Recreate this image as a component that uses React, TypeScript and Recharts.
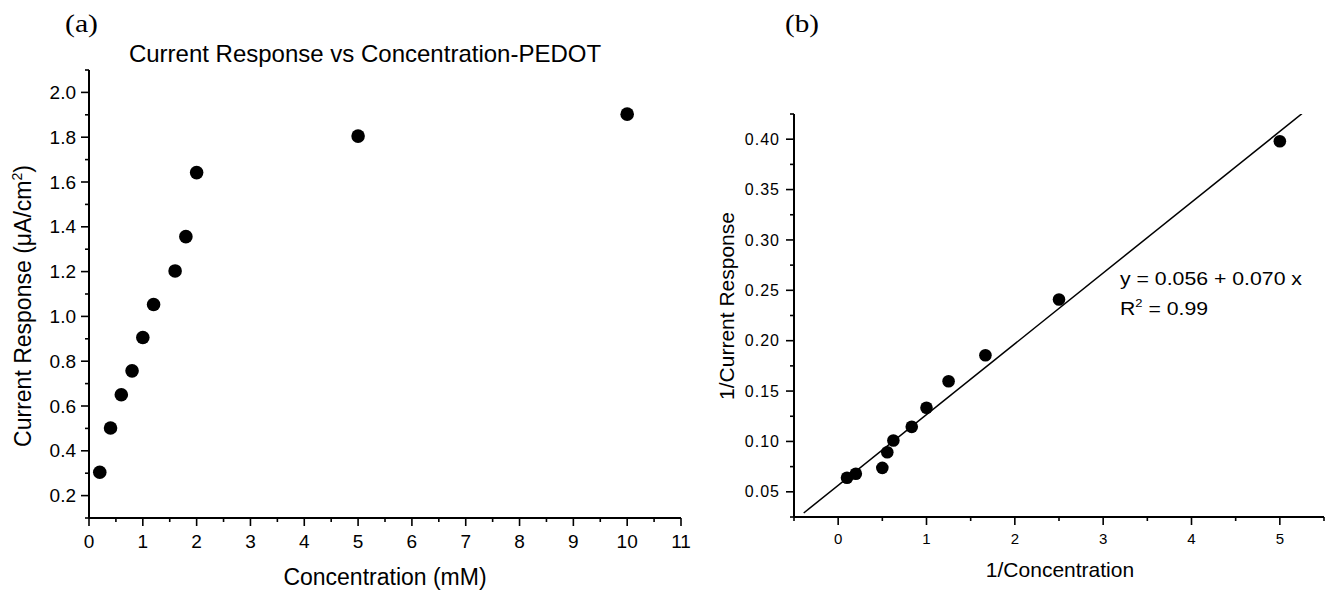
import React from 'react';
import { ScatterChart, Scatter, XAxis, YAxis } from 'recharts';

// panel (a): concentration (mM) vs current response (uA/cm2)
const concA = [0.2, 0.4, 0.6, 0.8, 1.0, 1.2, 1.6, 1.8, 2.0, 5, 10];
const currentA = [0.304, 0.502, 0.65, 0.757, 0.906, 1.053, 1.203, 1.356, 1.642, 1.805, 1.903];

// panel (b): double reciprocal plot
const invConc = [0.1, 0.2, 0.5, 0.556, 0.625, 0.833, 1.0, 1.25, 1.667, 2.5, 5.0];
const invCurrent = [0.0639, 0.0679, 0.0738, 0.0893, 0.1009, 0.1145, 0.1334, 0.1598, 0.1856, 0.2409, 0.398];

// fitted line end points as drawn
const fitX = [-0.39, 5.25];
const fitY = [0.029, 0.4253];

const xMajorA = [0, 1, 2, 3, 4, 5, 6, 7, 8, 9, 10, 11];
const xMinorA = [0.5, 1.5, 2.5, 3.5, 4.5, 5.5, 6.5, 7.5, 8.5, 9.5, 10.5];
const yMajorA = [0.2, 0.4, 0.6, 0.8, 1.0, 1.2, 1.4, 1.6, 1.8, 2.0];
const yMinorA = [0.1, 0.3, 0.5, 0.7, 0.9, 1.1, 1.3, 1.5, 1.7, 1.9, 2.1];

const xMajorB = [0, 1, 2, 3, 4, 5];
const xMinorB = [-0.5, 0.5, 1.5, 2.5, 3.5, 4.5, 5.5];
const yMajorB = [0.05, 0.1, 0.15, 0.2, 0.25, 0.3, 0.35, 0.4];
const yMinorB = [0.025, 0.075, 0.125, 0.175, 0.225, 0.275, 0.325, 0.375, 0.425];

const dataA = concA.map((x, i) => ({ x, y: currentA[i] }));
const dataB = invConc.map((x, i) => ({ x, y: invCurrent[i] }));
const fitData = fitX.map((x, i) => ({ x, y: fitY[i] }));

const FONT = '"Liberation Sans", Arial, sans-serif';
const SERIF = '"Liberation Serif", "Times New Roman", serif';
const axisStyle = { stroke: '#000', strokeWidth: 2 };

const sortTicks = (a: number[], b: number[]) => [...a, ...b].sort((p, q) => p - q);

const xTick = (majors: number[], fontSize: number, gap: number) => (props: any) => {
  const { x, y, payload } = props;
  const major = majors.includes(payload.value);
  return (
    <g>
      <line x1={x} y1={y} x2={x} y2={y + (major ? 8 : 4)} stroke="#000" strokeWidth={1.6} />
      {major && (
        <text x={x} y={y + gap} dy="0.71em" textAnchor="middle" fontSize={fontSize} fontFamily={FONT} fill="#000">
          {payload.value}
        </text>
      )}
    </g>
  );
};

const yTick = (majors: number[], fontSize: number, gap: number, digits: number, spacing: number) => (props: any) => {
  const { x, y, payload } = props;
  const major = majors.includes(payload.value);
  return (
    <g>
      <line x1={x} y1={y} x2={x - (major ? 8 : 4)} y2={y} stroke="#000" strokeWidth={1.6} />
      {major && (
        <text x={x - gap} y={y} dy="0.35em" textAnchor="end" fontSize={fontSize} fontFamily={FONT} letterSpacing={spacing} fill="#000">
          {payload.value.toFixed(digits)}
        </text>
      )}
    </g>
  );
};

const dot = (r: number) => (p: any) => <circle cx={p.cx} cy={p.cy} r={r} fill="#000" />;

export default function App() {
  return (
    <div style={{ position: 'absolute', left: 0, top: 0, width: 1328, height: 592, background: '#fff' }}>
      <div style={{ position: 'absolute', left: 0, top: 0 }}>
        <ScatterChart width={1328} height={592} margin={{ top: 70, left: 88, right: 647, bottom: 73 }}>
          <XAxis
            type="number"
            dataKey="x"
            domain={[0, 11]}
            ticks={sortTicks(xMajorA, xMinorA)}
            interval={0}
            height={1}
            tickSize={0}
            tickMargin={0}
            tickLine={false}
            axisLine={axisStyle}
            tick={xTick(xMajorA, 19, 17)}
          />
          <YAxis
            type="number"
            dataKey="y"
            domain={[0.1, 2.1]}
            ticks={sortTicks(yMajorA, yMinorA)}
            interval={0}
            width={1}
            tickSize={0}
            tickMargin={0}
            tickLine={false}
            axisLine={axisStyle}
            tick={yTick(yMajorA, 19, 13, 1, 0)}
          />
          <Scatter data={dataA} shape={dot(6.8)} isAnimationActive={false} />
          <text x={65} y={32} textLength={33} lengthAdjust="spacingAndGlyphs" fontSize={26} fontFamily={SERIF} fill="#000">(a)</text>
          <text x={365} y={62} textAnchor="middle" fontSize={24} fontFamily={FONT} fill="#000">
            Current Response vs Concentration-PEDOT
          </text>
          <text x={385} y={585} textAnchor="middle" fontSize={23} fontFamily={FONT} fill="#000">
            Concentration (mM)
          </text>
          <text x={31} y={306} transform="rotate(-90 31 306)" textAnchor="middle" fontSize={23} fontFamily={FONT} fill="#000">
            Current Response (μA/cm<tspan dy={-9} fontSize={14}>2</tspan><tspan dy={9}>)</tspan>
          </text>
        </ScatterChart>
      </div>
      <div style={{ position: 'absolute', left: 0, top: 0 }}>
        <ScatterChart width={1328} height={592} margin={{ top: 114, left: 793, right: 4, bottom: 74 }}>
          <XAxis
            type="number"
            dataKey="x"
            domain={[-0.5, 5.5]}
            ticks={sortTicks(xMajorB, xMinorB)}
            interval={0}
            height={1}
            tickSize={0}
            tickMargin={0}
            tickLine={false}
            axisLine={axisStyle}
            tick={xTick(xMajorB, 15, 16)}
            allowDataOverflow
          />
          <YAxis
            type="number"
            dataKey="y"
            domain={[0.025, 0.425]}
            ticks={sortTicks(yMajorB, yMinorB)}
            interval={0}
            width={1}
            tickSize={0}
            tickMargin={0}
            tickLine={false}
            axisLine={axisStyle}
            tick={yTick(yMajorB, 16, 14, 2, 1)}
            allowDataOverflow
          />
          <Scatter data={fitData} line={{ stroke: '#000', strokeWidth: 1.5 }} shape={() => <g />} isAnimationActive={false} />
          <Scatter data={dataB} shape={dot(6.3)} isAnimationActive={false} />
          <text x={785} y={32} textLength={34} lengthAdjust="spacingAndGlyphs" fontSize={26} fontFamily={SERIF} fill="#000">(b)</text>
          <text x={1060} y={577} textAnchor="middle" fontSize={21} fontFamily={FONT} fill="#000">
            1/Concentration
          </text>
          <text x={734} y={306} transform="rotate(-90 734 306)" textAnchor="middle" fontSize={21} fontFamily={FONT} fill="#000">
            1/Current Response
          </text>
          <text x={1120} y={285} textLength={182} lengthAdjust="spacingAndGlyphs" fontSize={18} fontFamily={FONT} fill="#000">
            y = 0.056 + 0.070 x
          </text>
          <text x={1120} y={315} textLength={88} lengthAdjust="spacingAndGlyphs" fontSize={18} fontFamily={FONT} fill="#000">
            R<tspan dy={-8} fontSize={11}>2</tspan><tspan dy={8}> = 0.99</tspan>
          </text>
        </ScatterChart>
      </div>
    </div>
  );
}
